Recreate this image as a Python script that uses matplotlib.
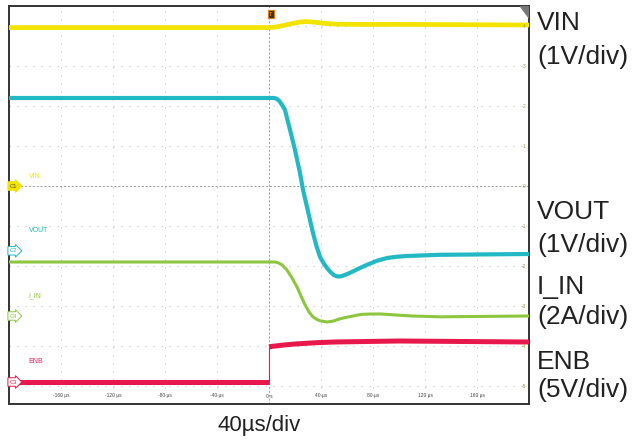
import matplotlib
matplotlib.use("Agg")
import matplotlib.pyplot as plt
import numpy as np

plt.rcParams['font.family'] = ['Liberation Sans', 'DejaVu Sans']

# time in us, amplitude in divisions (screen centre = 0)
vin_t = [-200, -1, 4, 8, 12, 16, 20, 24, 28, 32, 36, 40, 45, 53, 70, 100, 200]
vin_y = [3.96, 3.96, 3.97, 3.99, 4.02, 4.05, 4.075, 4.1, 4.11, 4.105, 4.09, 4.075,
         4.06, 4.045, 4.04, 4.04, 4.025]

vout_t = [-200, 4, 6, 8, 10, 12.3, 16.2, 20, 23.8, 26.2, 29.2, 33.8, 36.5, 39.2, 42,
          44.6, 47.5, 50, 52.3, 55, 58, 62.3, 68, 75.4, 83, 90.8, 98, 106, 131.5, 200]
vout_y = [2.2, 2.2, 2.18, 2.12, 2.03, 1.9, 1.4, 0.9, 0.33, -0.1, -0.52, -1.17, -1.5,
          -1.77, -1.93, -2.05, -2.16, -2.23, -2.26, -2.26, -2.23, -2.17, -2.08, -1.97,
          -1.87, -1.8, -1.77, -1.75, -1.72, -1.7]

iin_t = [-200, 5, 7, 10, 13.8, 17.7, 21.5, 24.6, 27.7, 30.8, 33.8, 36.5, 39.2, 44.6,
         49, 54.6, 60, 64.6, 71, 77.7, 86, 95.4, 110, 131.5, 200]
iin_y = [-1.9, -1.9, -1.92, -1.97, -2.1, -2.3, -2.52, -2.75, -2.97, -3.15, -3.27,
         -3.33, -3.37, -3.4, -3.38, -3.32, -3.28, -3.25, -3.21, -3.2, -3.2, -3.22,
         -3.25, -3.27, -3.25]

enb_low_t = [-200, 0]
enb_low_y = [-4.9, -4.9]
enb_high_t = [0, 2, 5, 10, 20, 35, 50, 100, 200]
enb_high_y = [-4.02, -4.01, -4.0, -3.98, -3.95, -3.92, -3.9, -3.875, -3.9]

time_ticks = [-160, -120, -80, -40, 0, 40, 80, 120, 160]
time_labels = ['-160 µs', '-120 µs', '-80 µs', '-40 µs', '0 s', '40 µs', '80 µs', '120 µs', '160 µs']
div_levels = [4, 3, 2, 1, 0, -1, -2, -3, -4, -5]

channels = ['VIN', 'VOUT', 'I_IN', 'ENB']
chan_tags = ['C1', 'C2', 'C4', 'C3']
chan_levels = [0, -1.62, -3.25, -4.9]
chan_colors = ['#f2e400', '#22b8c4', '#8dc63f', '#e8184c']
scales = ['(1V/div)', '(1V/div)', '(2A/div)', '(5V/div)']

fig = plt.figure(figsize=(6.36, 4.42), dpi=100)
ax = fig.add_axes([9 / 636, 38 / 442, 520 / 636, 398 / 442])
ax.set_xlim(-200, 200)
ax.set_ylim(-5.45, 4.5)

# scope graticule
for t in range(-160, 200, 40):
    if t == 0:
        ax.axvline(t, color='#999999', lw=0.7, ls=(0, (2, 2)), zorder=1)
    else:
        ax.axvline(t, color='#c8c8c8', lw=0.8, ls=(0, (1.2, 6)), zorder=1)
for lv in div_levels:
    if lv == 0:
        ax.axhline(lv, color='#999999', lw=0.7, ls=(0, (2, 2)), zorder=1)
    else:
        ax.axhline(lv, color='#c8c8c8', lw=0.8, ls=(0, (1.2, 6)), zorder=1)

# traces
ax.plot(vin_t, vin_y, color=chan_colors[0], lw=3.4, solid_capstyle='butt',
        solid_joinstyle='round', zorder=3)
ax.plot(vout_t, vout_y, color=chan_colors[1], lw=3.0, solid_capstyle='butt',
        solid_joinstyle='round', zorder=3)
ax.plot(iin_t, iin_y, color=chan_colors[2], lw=2.2, solid_capstyle='butt',
        solid_joinstyle='round', zorder=3)
ax.plot(enb_low_t, enb_low_y, color=chan_colors[3], lw=3.6, solid_capstyle='butt', zorder=3)
ax.plot(enb_high_t, enb_high_y, color=chan_colors[3], lw=3.6, solid_capstyle='butt',
        solid_joinstyle='round', zorder=3)
ax.plot([0, 0], [enb_low_y[-1], enb_high_y[0]], color=chan_colors[3], lw=0.8, zorder=3)

# channel tags on the left edge
for name, tag, lv, col in zip(channels, chan_tags, chan_levels, chan_colors):
    fc = col if tag == 'C1' else 'white'
    ax.text(-199.5, lv, tag, fontsize=4.2, color='#555555' if tag == 'C1' else col,
            va='center', ha='left', zorder=5,
            bbox=dict(boxstyle='rarrow,pad=0.3', fc=fc, ec=col, lw=0.7))
    ax.text(-185, lv + (0.15 if tag == 'C1' else 0.42), name, fontsize=5, color=col,
            va='bottom', ha='left', zorder=5)

# tick labels inside the screen
for t, lab in zip(time_ticks, time_labels):
    ax.text(t, -5.25, lab, fontsize=3.5, color='#444444', ha='center', va='center')
for lv in div_levels:
    ax.text(197.5, lv, str(lv), fontsize=3.5, color='#a09a30', ha='right', va='center')

# trigger marker and corner triangle
ax.text(1.5, 4.3, 'T', fontsize=4, color='#e07a10', ha='center', va='center',
        fontweight='bold', zorder=6,
        bbox=dict(boxstyle='square,pad=0.2', fc='#333333', ec='#e07a10', lw=0.8))
ax.fill([193, 200, 200], [4.5, 4.5, 4.2], color='#777777', zorder=6)

ax.set_xticks([])
ax.set_yticks([])
for sp in ax.spines.values():
    sp.set_color('#333333')
    sp.set_linewidth(1.4)

# labels outside the screen
label_px = [(23, 57), (212, 245), (287, 317), (362, 390)]
for name, sc, (p1, p2) in zip(channels, scales, label_px):
    fig.text(537 / 636, 1 - p1 / 442, name, fontsize=19, color='#222222', va='center', ha='left')
    fig.text(537 / 636, 1 - p2 / 442, sc, fontsize=19, color='#222222', va='center', ha='left')
fig.text(259 / 636, 1 - 425 / 442, '40µs/div', fontsize=16, color='#222222', va='center', ha='center')

fig.savefig('out.png', dpi=100)
